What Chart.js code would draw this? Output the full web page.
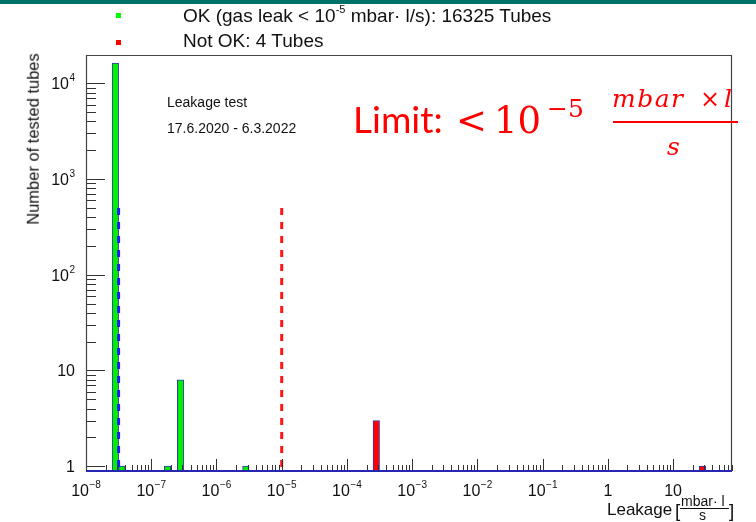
<!DOCTYPE html>
<html><head><meta charset="utf-8">
<script src="https://cdn.jsdelivr.net/npm/chart.js@4.4.1/dist/chart.umd.min.js"></script>
<style>
html,body{margin:0;padding:0;background:#fff;}
#wrap{position:relative;width:756px;height:522px;overflow:hidden;background:#fff;font-family:"Liberation Sans",Arial,sans-serif;color:#111;}
#wrap canvas{position:absolute;left:0;top:0;}
.t{position:absolute;white-space:nowrap;line-height:1;}
.sup{position:relative;font-size:11px;vertical-align:baseline;}
.red{color:#ff0000;}
.serif{font-family:"DejaVu Serif",serif;}
.it{font-family:"DejaVu Serif",serif;font-style:italic;}
.bar{position:absolute;}
</style></head><body>
<div id="wrap">
<canvas id="c" width="756" height="522"></canvas>
<div class="bar" style="left:0;top:0;width:756px;height:4px;background:#007169"></div>

<div class="bar" style="left:116px;top:13px;width:5px;height:5px;background:#00ff00"></div>
<div class="bar" style="left:116px;top:40px;width:5px;height:5px;background:#ff0000"></div>
<div class="t" data-x="183" data-b="22" style="font-size:19px">OK (gas leak &lt; 10<span class="sup" style="top:-9px">-5</span> mbar· l/s): 16325 Tubes</div>
<div class="t" data-x="183" data-b="47" style="font-size:19px">Not OK: 4 Tubes</div>

<div class="t" data-x="167" data-b="107.3" style="font-size:14px">Leakage test</div>
<div class="t" data-x="167" data-b="133.3" style="font-size:14px">17.6.2020 - 6.3.2022</div>

<div class="t red" data-x="353" data-b="133" style="font-size:37px;font-family:Lato,sans-serif">Limit:</div>
<div class="t red serif" data-x="456" data-b="133" style="font-size:37px">&lt;</div>
<div class="t red serif" data-x="494" data-b="133" style="font-size:37px">10</div>
<div class="t red serif" data-x="547" data-b="116.5" style="font-size:25px">−5</div>
<div class="t red it" data-x="612" data-b="107" style="font-size:25px;letter-spacing:1.5px">mbar</div>
<div class="t red serif" data-x="700" data-b="107" style="font-size:24px">×</div>
<div class="t red it" data-x="724" data-b="107" style="font-size:25px">l</div>
<div class="bar" style="left:613px;top:120.5px;width:125px;height:2.5px;background:#ff0000"></div>
<div class="t red it" data-x="667" data-b="155" style="font-size:25px">s</div>

<div class="t" id="ytitle" style="left:33px;top:138.5px;font-size:16.5px;transform:translate(-50%,-50%) rotate(-90deg)">Number of tested tubes</div>

<div class="t" data-x="607" data-b="515" style="font-size:17px">Leakage</div>
<div class="t" data-x="675" data-b="517" style="font-size:19px">[</div>
<div class="t" data-x="681" data-b="505.5" style="font-size:14px">mbar· l</div>
<div class="bar" style="left:680px;top:507.5px;width:49px;height:1.4px;background:#111"></div>
<div class="t" data-x="699" data-b="520" style="font-size:14px">s</div>
<div class="t" data-x="729" data-b="517" style="font-size:19px">]</div>
</div>
<script>
// ---- data ----
const okBinCenters = [2.82e-8, 3.55e-8, 1.78e-7, 2.82e-7, 2.82e-6];   // mbar·l/s
const okCounts = [16314, 1, 1, 8, 1];
const notOkBinCenters = [2.82e-4, 28.2];
const notOkCounts = [3, 1];
const meanLeak = 3.16e-8;      // blue dashed marker
const limitLeak = 1e-5;        // red dashed limit
const markerTop = 500;
const xRange = [1e-8, 80];
const yRange = [0.89, 19800];
const xDecades = [-8, -7, -6, -5, -4, -3, -2, -1, 0, 1];
const xTickLabels = ['10^−8','10^−7','10^−6','10^−5','10^−4','10^−3','10^−2','10^−1','1','10'];
const yDecades = [-1, 0, 1, 2, 3, 4];
const yTickLabels = ['', '1', '10', '10^2', '10^3', '10^4'];

// place HTML texts by baseline
document.querySelectorAll('.t[data-b]').forEach(el => {
  el.style.left = el.dataset.x + 'px';
  el.style.top = '0px';
  const probe = document.createElement('span');
  probe.style.cssText = 'display:inline-block;width:0;height:0;vertical-align:baseline;';
  el.appendChild(probe);
  const off = probe.offsetTop;
  el.removeChild(probe);
  el.style.top = (parseFloat(el.dataset.b) - off) + 'px';
});

const FONT = '"Liberation Sans", Arial, sans-serif';
function drawPow(ctx, label, x, y, align) {
  const parts = label.split('^');
  ctx.font = '16px ' + FONT;
  const wb = ctx.measureText(parts[0]).width;
  let we = 0;
  if (parts[1]) { ctx.font = '10px ' + FONT; we = ctx.measureText(parts[1]).width + 0.5; }
  const total = wb + we;
  const x0 = align === 'center' ? x - total / 2 : x - total;
  ctx.font = '16px ' + FONT;
  ctx.fillText(parts[0], x0, y);
  if (parts[1]) { ctx.font = '10px ' + FONT; ctx.fillText(parts[1], x0 + wb + 0.5, y - 8); }
}

const rootAxes = {
  id: 'rootAxes',
  afterDatasetsDraw(chart) {
    const {ctx, chartArea: a, scales: {x, y}} = chart;
    ctx.save();
    // x ticks (inside, upward)
    ctx.strokeStyle = '#333'; ctx.lineWidth = 1;
    ctx.beginPath();
    xDecades.forEach(n => {
      for (let k = 1; k <= 9; k++) {
        const v = k * Math.pow(10, n);
        if (v < xRange[0] * 0.999 || v > xRange[1]) continue;
        const px = Math.round(x.getPixelForValue(v)) + 0.5;
        const len = k === 1 ? 12 : 6;
        ctx.moveTo(px, a.bottom); ctx.lineTo(px, a.bottom - len);
      }
    });
    // y ticks (inside, rightward)
    yDecades.forEach(n => {
      for (let k = 1; k <= 9; k++) {
        const v = k * Math.pow(10, n);
        if (v < yRange[0] || v > yRange[1]) continue;
        const py = Math.round(y.getPixelForValue(v)) + 0.5;
        const len = k === 1 ? 19 : 10;
        ctx.moveTo(a.left, py); ctx.lineTo(a.left + len, py);
      }
    });
    ctx.stroke();
    // frame
    ctx.strokeStyle = '#444'; ctx.lineWidth = 1.2;
    ctx.beginPath();
    ctx.moveTo(a.left + 0.5, a.bottom); ctx.lineTo(a.left + 0.5, a.top + 0.5);
    ctx.lineTo(a.right - 0.5, a.top + 0.5); ctx.lineTo(a.right - 0.5, a.bottom);
    ctx.stroke();
    // histogram baseline (blue)
    ctx.strokeStyle = '#2626b0'; ctx.lineWidth = 2;
    ctx.beginPath(); ctx.moveTo(a.left, a.bottom); ctx.lineTo(a.right, a.bottom); ctx.stroke();
    // tick labels
    ctx.fillStyle = '#111'; ctx.textBaseline = 'alphabetic'; ctx.textAlign = 'left';
    xDecades.forEach((n, i) => {
      drawPow(ctx, xTickLabels[i], x.getPixelForValue(Math.pow(10, n)), 496, 'center');
    });
    yDecades.forEach((n, i) => {
      if (!yTickLabels[i]) return;
      drawPow(ctx, yTickLabels[i], 75, y.getPixelForValue(Math.pow(10, n)) + 6, 'right');
    });
    ctx.restore();
  }
};

new Chart(document.getElementById('c'), {
  type: 'bar',
  data: {
    datasets: [
      { type: 'line', label: 'mean', data: [{x: meanLeak, y: markerTop}, {x: meanLeak, y: yRange[0]}],
        borderColor: '#1a1aff', borderWidth: 3, borderDash: [7, 7], pointRadius: 0, fill: false, order: 0 },
      { type: 'line', label: 'limit', data: [{x: limitLeak, y: markerTop}, {x: limitLeak, y: yRange[0]}],
        borderColor: '#ff1414', borderWidth: 3, borderDash: [7, 7], pointRadius: 0, fill: false, order: 0 },
      { label: 'OK', data: okBinCenters.map((v, i) => ({x: v, y: okCounts[i]})),
        backgroundColor: '#00f000', borderColor: '#3535b5', borderWidth: 1, barThickness: 6.5, grouped: false, order: 1 },
      { label: 'Not OK', data: notOkBinCenters.map((v, i) => ({x: v, y: notOkCounts[i]})),
        backgroundColor: '#ff0000', borderColor: '#3535b5', borderWidth: 1, barThickness: 6.5, grouped: false, order: 1 }
    ]
  },
  options: {
    responsive: false, animation: false,
    layout: {padding: {top: 55, right: 24, left: 0, bottom: 0}},
    plugins: {legend: {display: false}, tooltip: {enabled: false}},
    scales: {
      x: {type: 'logarithmic', position: 'bottom', min: xRange[0], max: xRange[1], offset: false,
          grid: {display: false, drawTicks: false}, border: {display: false}, ticks: {display: false},
          afterFit: s => { s.height = 51; }},
      y: {type: 'logarithmic', position: 'left', min: yRange[0], max: yRange[1],
          grid: {display: false, drawTicks: false}, border: {display: false}, ticks: {display: false},
          afterFit: s => { s.width = 86; }}
    }
  },
  plugins: [rootAxes]
});
</script>
</body></html>
